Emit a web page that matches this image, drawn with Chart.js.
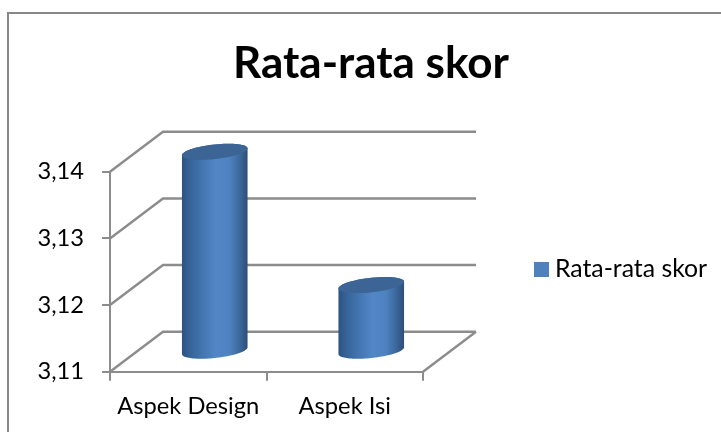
<!DOCTYPE html>
<html><head><meta charset="utf-8">
<style>html,body{margin:0;padding:0;background:#fff}canvas{display:block}</style>
<script src="https://cdn.jsdelivr.net/npm/chart.js@4"></script>
</head><body><canvas id="c" width="721" height="432"></canvas>
<script>
const categories = ['Aspek Design', 'Aspek Isi'];
const seriesName = 'Rata-rata skor';
const seriesValues = [3.14, 3.12];
const yTickValues = [3.11, 3.12, 3.13, 3.14];
const titleText = 'Rata-rata skor';

const DEPTH_X = 53, DEPTH_Y = 40, GREY = '#8c8c8c';
const F = 'Lato, Carlito, sans-serif';

function cylinderPath(ctx, cx, yTop, yBase, rx) {
  const a = -3.4, b = 7.3, n = 48;
  ctx.beginPath();
  for (let i = 0; i <= n; i++) { const t = Math.PI * i / n;
    ctx.lineTo(cx + rx * Math.cos(t), yBase + a * Math.cos(t) + b * Math.sin(t)); }
  for (let i = 0; i <= n; i++) { const t = Math.PI + Math.PI * i / n;
    ctx.lineTo(cx + rx * Math.cos(t), yTop + a * Math.cos(t) + b * Math.sin(t)); }
  ctx.closePath();
}
function facePath(ctx, cx, y, rx) {
  const a = -3.4, b = 7.3, n = 64;
  ctx.beginPath();
  for (let i = 0; i < n; i++) { const t = 2 * Math.PI * i / n;
    ctx.lineTo(cx + rx * Math.cos(t), y + a * Math.cos(t) + b * Math.sin(t)); }
  ctx.closePath();
}
// Each bar element draws itself as a cylinder standing mid-depth on the floor.
Chart.BarElement.prototype.draw = function (ctx) {
  const rx = this.width / 2, cx = this.x + DEPTH_X / 2;
  const yTop = this.y - DEPTH_Y / 2, yBase = this.base - DEPTH_Y / 2;
  const g = ctx.createLinearGradient(cx - rx, 0, cx + rx, 0);
  g.addColorStop(0, '#2c5382');
  g.addColorStop(0.12, '#366398');
  g.addColorStop(0.3, '#4274ae');
  g.addColorStop(0.52, '#5287c7');
  g.addColorStop(0.72, '#4e82c0');
  g.addColorStop(0.88, '#3b689d');
  g.addColorStop(1, '#2e4d76');
  ctx.save();
  cylinderPath(ctx, cx, yTop, yBase, rx);
  ctx.fillStyle = g; ctx.fill();
  facePath(ctx, cx, yTop, rx);
  ctx.fillStyle = '#3c6494'; ctx.fill();
  ctx.restore();
};

const frameAndWalls = {
  id: 'frameAndWalls',
  beforeDraw(chart) {
    const ctx = chart.ctx;
    ctx.save();
    ctx.strokeStyle = '#888888'; ctx.lineWidth = 2;
    ctx.strokeRect(8, 13, 800, 500);
    ctx.restore();
  },
  beforeDatasetsDraw(chart) {
    const { ctx, scales: { x, y } } = chart;
    ctx.save();
    ctx.strokeStyle = GREY; ctx.lineWidth = 2.4;
    for (const v of yTickValues) {
      const py = y.getPixelForValue(v);
      ctx.beginPath();
      ctx.moveTo(x.left, py);
      ctx.lineTo(x.left + DEPTH_X, py - DEPTH_Y);
      ctx.lineTo(x.right + DEPTH_X, py - DEPTH_Y);
      ctx.stroke();
    }
    const by = y.getPixelForValue(yTickValues[0]);
    ctx.beginPath();
    ctx.moveTo(x.right, by);
    ctx.lineTo(x.right + DEPTH_X, by - DEPTH_Y);
    ctx.stroke();
    ctx.restore();
  },
  afterLayout(chart) {
    const L = chart.legend;
    L.left = 530;
    L.right = 721;
    L.top = 246.5;
    L.bottom = 300;
    const T = chart.titleBlock;
    T.left = 0; T.right = 742;
  }
};

new Chart(document.getElementById('c'), {
  type: 'bar',
  data: {
    labels: categories,
    datasets: [{
      label: seriesName, data: seriesValues, base: yTickValues[0],
      backgroundColor: '#4F81BD', borderColor: '#4F81BD', borderWidth: 13,
      barThickness: 65.6, clip: false
    }]
  },
  plugins: [frameAndWalls],
  options: {
    responsive: false, animation: false,
    layout: { padding: { left: 0, right: 298, top: 0, bottom: 0 } },
    plugins: {
      tooltip: { enabled: false },
      title: {
        display: true, text: titleText, color: '#000',
        font: { family: F, size: 44, weight: 'bold', lineHeight: 1.2 },
        padding: { top: 37, bottom: 82 }, align: 'center', fullSize: true
      },
      legend: {
        position: 'chartArea', align: 'start',
        labels: { boxWidth: 2, boxHeight: 2, padding: 10.5, color: '#000',
                  font: { family: F, size: 24.8 } }
      }
    },
    scales: {
      x: {
        type: 'category', offset: true,
        afterFit(s) { s.height = 60.3; },
        grid: { drawOnChartArea: false, drawTicks: true, tickLength: 9, color: GREY, lineWidth: 2, offset: true },
        border: { display: true, color: GREY, width: 2 },
        ticks: { color: '#000', font: { family: F, size: 23.7 }, padding: 11.5, maxRotation: 0, autoSkip: false }
      },
      y: {
        type: 'linear', min: yTickValues[0], max: yTickValues[yTickValues.length - 1],
        afterFit(s) { s.width = 110; },
        afterBuildTicks(s) { s.ticks = yTickValues.map(v => ({ value: v })); },
        grid: { drawOnChartArea: false, drawTicks: true, tickLength: 8, color: GREY, lineWidth: 2 },
        border: { display: true, color: GREY, width: 2 },
        ticks: { color: '#000', font: { family: F, size: 23.7 }, padding: 18,
                 callback: v => v.toFixed(2).replace('.', ',') }
      }
    }
  }
});
</script></body></html>
